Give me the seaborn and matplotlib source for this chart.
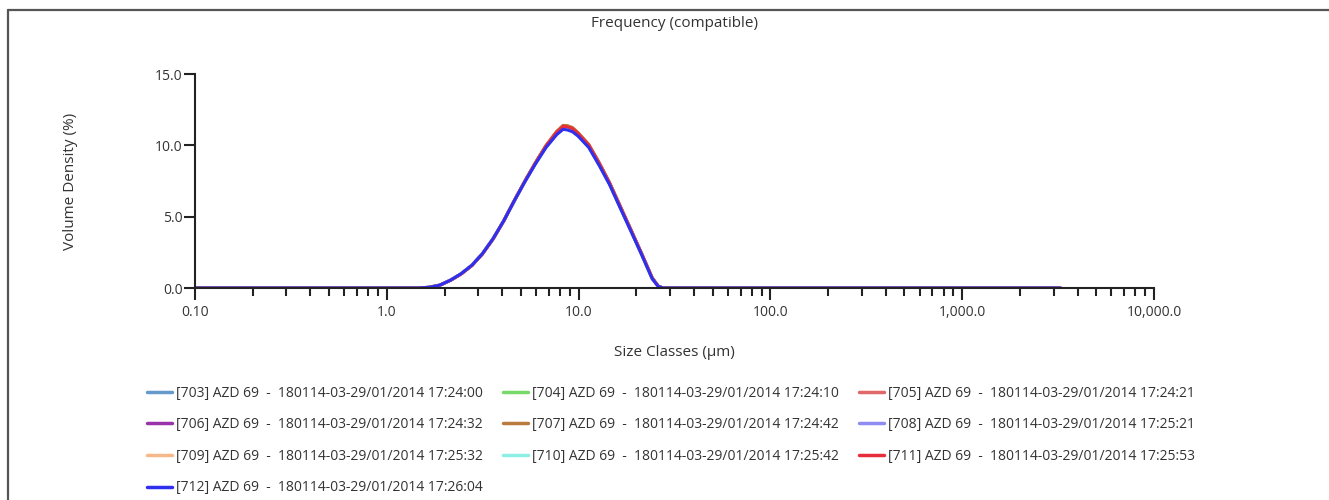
import numpy as np
import pandas as pd
import matplotlib
matplotlib.use("Agg")
import matplotlib.pyplot as plt
import matplotlib.ticker as mticker
from matplotlib.lines import Line2D
import seaborn as sns

# size classes (um)
size_um = [0.1, 1.0, 1.3, 1.47, 1.67, 1.89, 2.15, 2.44, 2.78, 3.15, 3.58, 4.07,
           4.62, 5.25, 5.96, 6.77, 7.69, 8.3, 8.74, 9.3, 9.93, 11.3, 12.8, 14.5,
           16.5, 18.8, 21.3, 24.2, 26.0, 27.5, 50.0, 3250.0]

# volume density (%) per measurement
d703 = [0, 0, 0, 0, 0.05, 0.2, 0.55, 0.99, 1.59, 2.39, 3.44, 4.7, 6.11, 7.47, 8.74, 9.92, 10.85, 11.24, 11.21, 11.08, 10.76, 9.94, 8.68, 7.31, 5.65, 3.99, 2.38, 0.68, 0.12, 0, 0, 0]
d704 = [0, 0, 0, 0, 0.05, 0.2, 0.55, 0.99, 1.59, 2.39, 3.44, 4.7, 6.11, 7.48, 8.76, 9.95, 10.9, 11.3, 11.27, 11.14, 10.8, 9.98, 8.72, 7.34, 5.68, 4.01, 2.4, 0.69, 0.13, 0, 0, 0]
d705 = [0, 0, 0, 0, 0.05, 0.2, 0.54, 0.98, 1.58, 2.38, 3.43, 4.7, 6.12, 7.49, 8.78, 9.98, 10.95, 11.36, 11.33, 11.2, 10.86, 10.04, 8.77, 7.38, 5.72, 4.04, 2.42, 0.71, 0.13, 0, 0, 0]
d706 = [0, 0, 0, 0, 0.05, 0.2, 0.55, 0.99, 1.59, 2.39, 3.44, 4.7, 6.11, 7.48, 8.75, 9.94, 10.88, 11.28, 11.25, 11.12, 10.79, 9.97, 8.71, 7.33, 5.67, 4.0, 2.39, 0.69, 0.13, 0, 0, 0]
d707 = [0, 0, 0, 0, 0.05, 0.2, 0.54, 0.98, 1.58, 2.38, 3.43, 4.7, 6.12, 7.5, 8.8, 10.0, 10.98, 11.4, 11.38, 11.25, 10.9, 10.07, 8.8, 7.4, 5.74, 4.06, 2.44, 0.73, 0.14, 0, 0, 0]
d708 = [0, 0, 0, 0, 0.05, 0.2, 0.55, 1.0, 1.6, 2.4, 3.45, 4.7, 6.1, 7.46, 8.73, 9.9, 10.82, 11.21, 11.18, 11.05, 10.73, 9.92, 8.66, 7.3, 5.64, 3.98, 2.37, 0.67, 0.12, 0, 0, 0]
d709 = [0, 0, 0, 0, 0.05, 0.2, 0.55, 0.99, 1.59, 2.39, 3.44, 4.7, 6.11, 7.47, 8.75, 9.93, 10.87, 11.27, 11.24, 11.1, 10.78, 9.96, 8.7, 7.32, 5.66, 4.0, 2.39, 0.68, 0.12, 0, 0, 0]
d710 = [0, 0, 0, 0, 0.05, 0.2, 0.55, 1.0, 1.6, 2.4, 3.45, 4.7, 6.1, 7.46, 8.72, 9.88, 10.8, 11.18, 11.15, 11.02, 10.71, 9.9, 8.64, 7.28, 5.63, 3.97, 2.37, 0.67, 0.12, 0, 0, 0]
d711 = [0, 0, 0, 0, 0.05, 0.2, 0.54, 0.98, 1.58, 2.38, 3.43, 4.7, 6.12, 7.49, 8.77, 9.97, 10.93, 11.33, 11.3, 11.17, 10.84, 10.02, 8.75, 7.36, 5.7, 4.03, 2.41, 0.7, 0.13, 0, 0, 0]
d712 = [0, 0, 0, 0, 0.05, 0.2, 0.55, 1.0, 1.6, 2.4, 3.45, 4.7, 6.1, 7.45, 8.7, 9.85, 10.75, 11.12, 11.08, 10.95, 10.65, 9.85, 8.6, 7.25, 5.6, 3.95, 2.35, 0.65, 0.12, 0, 0, 0]

labels = [
    "[703] AZD 69  -  180114-03-29/01/2014 17:24:00",
    "[704] AZD 69  -  180114-03-29/01/2014 17:24:10",
    "[705] AZD 69  -  180114-03-29/01/2014 17:24:21",
    "[706] AZD 69  -  180114-03-29/01/2014 17:24:32",
    "[707] AZD 69  -  180114-03-29/01/2014 17:24:42",
    "[708] AZD 69  -  180114-03-29/01/2014 17:25:21",
    "[709] AZD 69  -  180114-03-29/01/2014 17:25:32",
    "[710] AZD 69  -  180114-03-29/01/2014 17:25:42",
    "[711] AZD 69  -  180114-03-29/01/2014 17:25:53",
    "[712] AZD 69  -  180114-03-29/01/2014 17:26:04",
]
colors = ["#6699cc", "#77d96a", "#e06868", "#9933aa", "#b87a3d",
          "#8f8cf2", "#f7b98a", "#8ef0e4", "#e62e3a", "#2f2ff0"]
series = [d703, d704, d705, d706, d707, d708, d709, d710, d711, d712]

x_ticks = [0.1, 1, 10, 100, 1000, 10000]
x_ticklabels = ["0.10", "1.0", "10.0", "100.0", "1,000.0", "10,000.0"]
y_ticks = [0, 5, 10, 15]
y_ticklabels = ["0.0", "5.0", "10.0", "15.0"]

rows = []
for lab, vals in zip(labels, series):
    for s, v in zip(size_um, vals):
        rows.append({"size": s, "density": v, "sample": lab})
df = pd.DataFrame(rows)

sns.set_style("ticks")
plt.rcParams['font.family'] = ['Open Sans', 'DejaVu Sans']
txt = "#333333"
axc = "#222222"

fig = plt.figure(figsize=(13.29, 5.0), dpi=100)
ax = fig.add_axes([0.1467, 0.424, 0.7216, 0.428])

sns.lineplot(data=df, x='size', y='density', hue='sample', hue_order=labels,
             palette=dict(zip(labels, colors)), linewidth=2.2, errorbar=None,
             legend=False, ax=ax)

ax.set_xscale('log')
ax.set_xlim(0.1, 10000)
ax.set_ylim(0, 15)
ax.set_xticks(x_ticks)
ax.set_xticklabels(x_ticklabels)
ax.xaxis.set_minor_locator(mticker.LogLocator(base=10, subs=np.arange(2, 10)))
ax.xaxis.set_minor_formatter(mticker.NullFormatter())
ax.set_yticks(y_ticks)
ax.set_yticklabels(y_ticklabels)

sns.despine(ax=ax)
for side in ['left', 'bottom']:
    ax.spines[side].set_color(axc)
    ax.spines[side].set_linewidth(1.5)
ax.tick_params(axis='x', which='major', direction='out', length=8.5, width=1.5,
               color=axc, pad=4, labelsize=10, labelcolor=txt, bottom=True)
ax.tick_params(axis='x', which='minor', direction='out', length=5.5, width=1.5,
               color=axc, bottom=True)
ax.tick_params(axis='y', which='major', direction='out', length=8, width=1.5,
               color=axc, pad=1, labelsize=10, labelcolor=txt, left=True)

ax.set_title('Frequency (compatible)', fontsize=11, color=txt, pad=34)
ax.set_xlabel('Size Classes (µm)', fontsize=11, color=txt)
ax.xaxis.set_label_coords(0.5, -0.265)
ax.set_ylabel('Volume Density (%)', fontsize=11, color=txt)
ax.yaxis.set_label_coords(-0.122, 0.5)

# legend filled column-wise so it reads row by row like the original
order = [0, 3, 6, 9, 1, 4, 7, 2, 5, 8]
handles = [Line2D([0], [0], color=colors[i], lw=2.5) for i in order]
fig.legend(handles, [labels[i] for i in order], loc='upper left',
           bbox_to_anchor=(0.1105, 0.229), ncol=3, frameon=False,
           fontsize=10, handlelength=1.8, handletextpad=0.29,
           columnspacing=1.45, labelspacing=1.2, borderaxespad=0,
           borderpad=0, labelcolor=txt)

# outer frame (top and left edges visible in the original)
fig.add_artist(Line2D([8 / 1329, 1.0], [1 - 10 / 500, 1 - 10 / 500],
                      transform=fig.transFigure, color='#555555', lw=1.6))
fig.add_artist(Line2D([8 / 1329, 8 / 1329], [0, 1 - 10 / 500],
                      transform=fig.transFigure, color='#555555', lw=1.6))

fig.savefig('out.png', dpi=100)
